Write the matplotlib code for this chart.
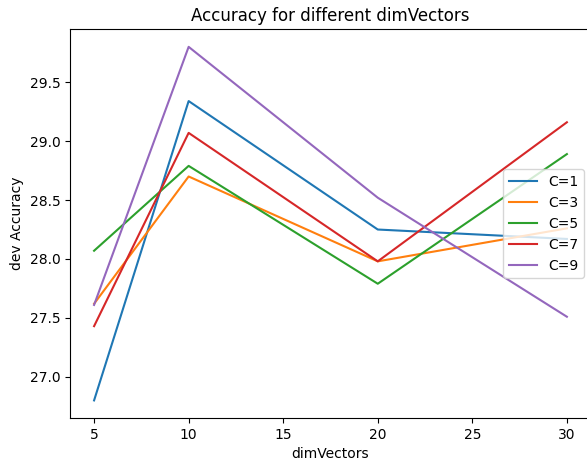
import matplotlib
matplotlib.use("Agg")
import matplotlib.pyplot as plt

dim_vectors = [5, 10, 20, 30]
acc_c1 = [26.80, 29.34, 28.25, 28.17]
acc_c3 = [27.62, 28.70, 27.98, 28.26]
acc_c5 = [28.07, 28.79, 27.79, 28.89]
acc_c7 = [27.43, 29.07, 27.98, 29.16]
acc_c9 = [27.61, 29.80, 28.52, 27.51]
labels = ["C=1", "C=3", "C=5", "C=7", "C=9"]

fig, ax = plt.subplots(figsize=(5.87, 4.63), dpi=100)
for vals, lab in zip([acc_c1, acc_c3, acc_c5, acc_c7, acc_c9], labels):
    ax.plot(dim_vectors, vals, label=lab)

ax.set_title("Accuracy for different dimVectors")
ax.set_xlabel("dimVectors")
ax.set_ylabel("dev Accuracy")
ax.legend(loc="center right")
plt.subplots_adjust(left=0.12, right=1.006, bottom=0.097, top=0.937)
fig.savefig("out.png")
plt.close(fig)
